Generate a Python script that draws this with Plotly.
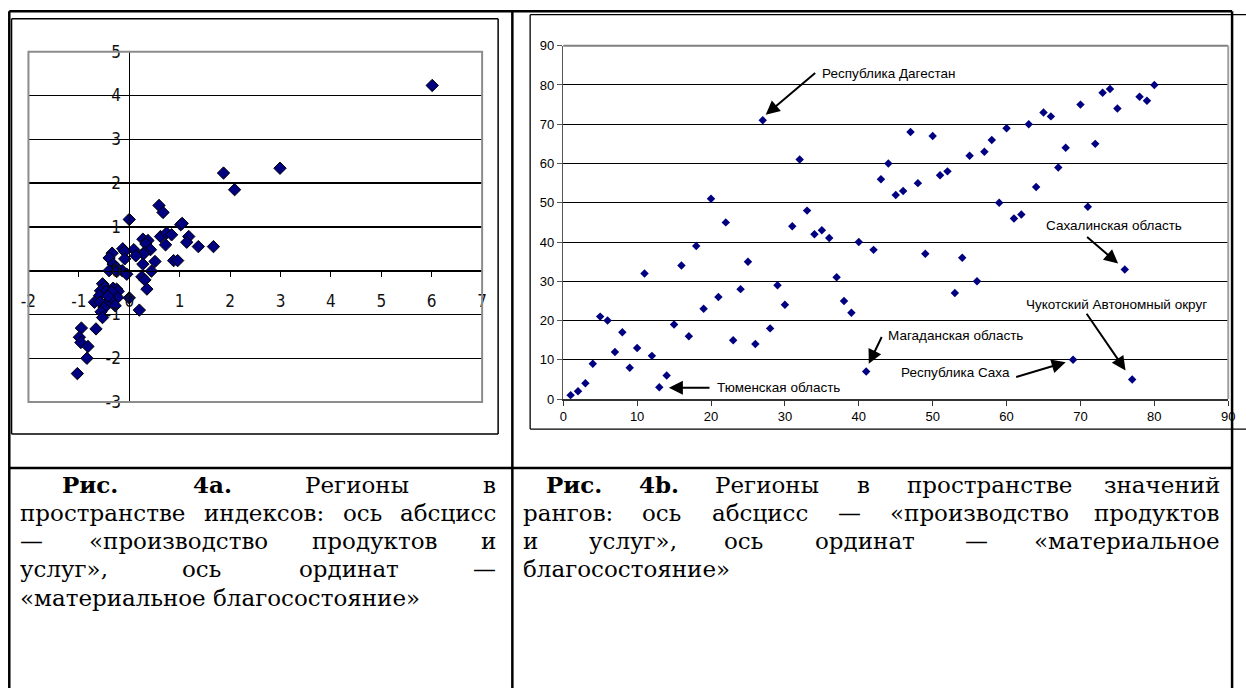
import plotly.graph_objects as go

W, H = 1246, 688

# ---------------- data: Fig 4a (index space) ----------------
IDX_X = [6.01, 2.99, 1.87, 2.09, 0.59, 0.67, 0.00, 1.02, 1.05, 0.62, 0.74, 0.84, 0.72,
         1.18, 1.14, 1.37, 1.67, 0.88, 0.96, 0.27, 0.37, 0.33, 0.42, 0.30, 0.28, 0.51,
         0.27, 0.44, 0.09, 0.13, -0.13, -0.09, -0.09, -0.14, -0.05, -0.34, -0.40, -0.32,
         -0.26, -0.40, -0.25, 0.25, 0.31, 0.35, 0.20, 0.00, -0.53, -0.48, -0.32, -0.25,
         -0.22, -0.57, -0.46, -0.30, -0.23, -0.59, -0.38, -0.69, -0.58, -0.45, -0.28,
         -0.50, -0.56, -0.53, -0.95, -0.66, -0.99, -0.96, -0.82, -0.84, -1.03, -0.35, -0.42]
IDX_Y = [4.23, 2.34, 2.23, 1.85, 1.49, 1.33, 1.17, 1.05, 1.08, 0.78, 0.86, 0.82, 0.59,
         0.78, 0.65, 0.55, 0.55, 0.23, 0.23, 0.72, 0.69, 0.61, 0.48, 0.42, 0.38, 0.21,
         0.15, -0.01, 0.48, 0.34, 0.50, 0.44, 0.27, 0.00, -0.08, 0.40, 0.29, 0.15,
         0.08, 0.00, -0.02, -0.14, -0.21, -0.42, -0.90, -0.62, -0.30, -0.37, -0.40, -0.42,
         -0.47, -0.46, -0.47, -0.55, -0.61, -0.57, -0.65, -0.72, -0.72, -0.78, -0.80,
         -0.85, -0.94, -1.07, -1.31, -1.33, -1.52, -1.64, -1.73, -2.00, -2.35, -0.48, -0.58]
A_XTICKS = [-2, -1, 0, 1, 2, 3, 4, 5, 6, 7]
A_XTICKTEXT = ["-2", "-1", "0", "1", "2", "3", "4", "5", "6", "7"]
A_YTICKS = [-3, -2, -1, 0, 1, 2, 3, 4, 5]
A_YTICKTEXT = ["-3", "-2", "-1", "0", "1", "2", "3", "4", "5"]

# ---------------- data: Fig 4b (rank space) ----------------
RANK_X = [1, 2, 3, 4, 5, 6, 7, 8, 9, 10, 11, 12, 13, 14, 15, 16, 17, 18, 19, 20,
          21, 22, 23, 24, 25, 26, 27, 28, 29, 30, 31, 32, 33, 34, 35, 36, 37, 38, 39, 40,
          41, 42, 43, 44, 45, 46, 47, 48, 49, 50, 51, 52, 53, 54, 55, 56, 57, 58, 59, 60,
          61, 62, 63, 64, 65, 66, 67, 68, 69, 70, 71, 72, 73, 74, 75, 76, 77, 78, 79, 80]
RANK_Y = [1, 2, 4, 9, 21, 20, 12, 17, 8, 13, 32, 11, 3, 6, 19, 34, 16, 39, 23, 51,
          26, 45, 15, 28, 35, 14, 71, 18, 29, 24, 44, 61, 48, 42, 43, 41, 31, 25, 22, 40,
          7, 38, 56, 60, 52, 53, 68, 55, 37, 67, 57, 58, 27, 36, 62, 30, 63, 66, 50, 69,
          46, 47, 70, 54, 73, 72, 59, 64, 10, 75, 49, 65, 78, 79, 74, 33, 5, 77, 76, 80]
B_TICKS = [0, 10, 20, 30, 40, 50, 60, 70, 80, 90]

# labelled regions: (text, text x, text y, anchor, arrow head x, y, arrow tail x, y)
B_LABELS = [
    ("Республика Дагестан", 34.8, 82.9, "left", 27.4, 72.4, 34.3, 83.4),
    ("Тюменская область", 20.6, 3.0, "left", 14.3, 2.9, 20.0, 2.9),
    ("Магаданская область", 43.7, 16.2, "left", 41.35, 9.0, 43.2, 16.2),
    ("Республика Саха", 60.8, 6.7, "right", 68.0, 9.4, 61.1, 5.5),
    ("Сахалинская область", 74.5, 44.2, "center", 75.1, 34.5, 70.7, 41.6),
    ("Чукотский Автономный округ", 74.9, 24.1, "center", 76.1, 7.3, 70.7, 22.1),
]

# ---------------- captions ----------------
CAP_LEFT = [
    [("Рис.", True), ("4a.", True), ("Регионы", False), ("в", False)],
    [("пространстве", False), ("индексов:", False), ("ось", False), ("абсцисс", False)],
    [("—", False), ("«производство", False), ("продуктов", False), ("и", False)],
    [("услуг»,", False), ("ось", False), ("ординат", False), ("—", False)],
    [("«материальное благосостояние»", False)],
]
CAP_RIGHT = [
    [("Рис.", True), ("4b.", True), ("Регионы", False), ("в", False), ("пространстве", False), ("значений", False)],
    [("рангов:", False), ("ось", False), ("абсцисс", False), ("—", False), ("«производство", False), ("продуктов", False)],
    [("и", False), ("услуг»,", False), ("ось", False), ("ординат", False), ("—", False), ("«материальное", False)],
    [("благосостояние»", False)],
]


def px(x):
    return x / W


def py(y):
    return 1 - y / H


fig = go.Figure()

# ---- layout geometry (pixels) ----
A_DX = [20.7, 479.9]
A_DY = [43.0, 403.8]
B_DX = [562.0, 1235.1]
B_DY = [36.8, 400.7]
A_XR = [-2, 7]
A_YR = [-3, 5]

a_xdom = [px(A_DX[0]), px(A_DX[1])]
a_ydom = [py(A_DY[1]), py(A_DY[0])]
b_xdom = [px(B_DX[0]), px(B_DX[1])]
b_ydom = [py(B_DY[1]), py(B_DY[0])]

a_xaxis_pos = a_ydom[0] + (0 - A_YR[0]) / (A_YR[1] - A_YR[0]) * (a_ydom[1] - a_ydom[0])
a_yaxis_pos = a_xdom[0] + (0 - A_XR[0]) / (A_XR[1] - A_XR[0]) * (a_xdom[1] - a_xdom[0])

NARROW = "Liberation Sans Narrow, Arial Narrow, DejaVu Sans Condensed, Liberation Sans, Arial"
SANS = "Liberation Sans, Arial, sans-serif"
SERIF = "DejaVu Serif, Liberation Serif, serif"

fig.add_trace(go.Scatter(
    x=IDX_X, y=IDX_Y, mode="markers", xaxis="x", yaxis="y",
    marker=dict(symbol="diamond", size=9.5, color="#000080", line=dict(color="black", width=1)),
    hoverinfo="skip", showlegend=False, cliponaxis=False))

fig.add_trace(go.Scatter(
    x=RANK_X, y=RANK_Y, mode="markers", xaxis="x2", yaxis="y2",
    marker=dict(symbol="diamond", size=6.5, color="#000080", line=dict(width=0)),
    hoverinfo="skip", showlegend=False, cliponaxis=False))

fig.update_layout(
    width=W, height=H, margin=dict(l=0, r=0, t=0, b=0),
    paper_bgcolor="white", plot_bgcolor="white", showlegend=False,
    xaxis=dict(domain=a_xdom, range=A_XR, anchor="free", position=a_xaxis_pos,
               showline=True, linecolor="black", linewidth=1.5,
               ticks="outside", ticklen=5, tickwidth=1, tickcolor="black",
               tickvals=A_XTICKS, ticktext=A_XTICKTEXT, ticklabelstandoff=9,
               showgrid=False, zeroline=False, fixedrange=True,
               tickfont=dict(family=NARROW, size=17, color="#111")),
    yaxis=dict(domain=a_ydom, range=A_YR, anchor="free", position=a_yaxis_pos,
               showline=True, linecolor="black", linewidth=1.2,
               ticks="outside", ticklen=5, tickwidth=1, tickcolor="black",
               tickvals=A_YTICKS, ticktext=A_YTICKTEXT,
               showgrid=True, gridcolor="black", gridwidth=1.5,
               zeroline=False, fixedrange=True,
               tickfont=dict(family=NARROW, size=17, color="#111")),
    xaxis2=dict(domain=b_xdom, range=[0, 90], anchor="y2",
                showline=True, linecolor="#333", linewidth=1.5,
                ticks="outside", ticklen=5, tickwidth=1, tickcolor="#333",
                tickvals=B_TICKS, showgrid=False, zeroline=False, fixedrange=True,
                tickfont=dict(family=SANS, size=13, color="black")),
    yaxis2=dict(domain=b_ydom, range=[0, 90], anchor="x2",
                showline=True, linecolor="#555", linewidth=1.5,
                ticks="outside", ticklen=5, tickwidth=1, tickcolor="#555",
                tickvals=B_TICKS, showgrid=True, gridcolor="black", gridwidth=1,
                zeroline=False, fixedrange=True,
                tickfont=dict(family=SANS, size=13, color="black")),
)

shapes = []
shapes.append(dict(type="rect", xref="x domain", yref="y domain", x0=0, x1=1, y0=0, y1=1,
                   line=dict(color="#8c8c8c", width=2), layer="above"))
shapes.append(dict(type="line", xref="x2 domain", yref="y2 domain", x0=0, x1=1, y0=1, y1=1,
                   line=dict(color="#808080", width=2), layer="above"))
shapes.append(dict(type="line", xref="x2 domain", yref="y2 domain", x0=1, x1=1, y0=0, y1=1,
                   line=dict(color="#a0a0a0", width=2), layer="above"))


def pline(x0, y0, x1, y1, width=2.5, color="black"):
    shapes.append(dict(type="line", xref="paper", yref="paper",
                       x0=px(x0), y0=py(y0), x1=px(x1), y1=py(y1),
                       line=dict(color=color, width=width), layer="above"))


# chart boxes
pline(3.6, 9.0, 496.1, 9.0, 1.5)
pline(3.6, 436.8, 496.1, 436.8, 1.5)
pline(3.6, 9.0, 3.6, 436.8, 1.5)
pline(496.1, 9.0, 496.1, 436.8, 1.5)
pline(528.5, 4.8, 1260, 4.8, 1.3)
pline(528.5, 431.6, 1260, 431.6, 1.3)
pline(528.5, 4.8, 528.5, 431.6, 1.3)
# table grid
TOP, DIV, LEFT, MID, RIGHT = 1.3, 471.8, 1.3, 510.5, 1239
pline(LEFT, TOP, RIGHT, TOP, 2.5)
pline(LEFT, TOP, LEFT, 700, 2.5)
pline(MID, TOP, MID, 700, 2.5)
pline(RIGHT, TOP, RIGHT, 700, 2.5)
pline(LEFT, DIV, RIGHT, DIV, 2.5)

annotations = []

for text, tx, ty, anc, hx, hy, ax_, ay_ in B_LABELS:
    annotations.append(dict(x=tx, y=ty, xref="x2", yref="y2", text=text, showarrow=False,
                            xanchor=anc, yanchor="middle",
                            font=dict(family=SANS, size=13.5, color="black")))
    annotations.append(dict(x=hx, y=hy, xref="x2", yref="y2", ax=ax_, ay=ay_,
                            axref="x2", ayref="y2", text="", showarrow=True,
                            arrowhead=2, arrowsize=1.4, arrowwidth=2, arrowcolor="black",
                            standoff=0, startstandoff=0))

# caption text, justified word by word (approximate DejaVu Serif advance widths, em)
TW = {"а": .595, "б": .612, "в": .590, "г": .522, "д": .643, "е": .592, "ж": .919, "з": .529,
      "и": .670, "й": .670, "к": .633, "л": .643, "м": .770, "н": .670, "о": .602, "п": .670,
      "р": .640, "с": .561, "т": .563, "у": .570, "ф": .818, "х": .570, "ц": .670, "ч": .635,
      "ш": .949, "щ": .949, "ъ": .698, "ы": .868, "ь": .605, "э": .561, "ю": .874, "я": .635,
      "Р": .733, ".": .318, ",": .318, ":": .337, "«": .556, "»": .556, "—": 1.0, " ": .318,
      "4": .636, "a": .595, "b": .640}
BOLD_F = 1.09
CAP_SIZE = 23


def wwidth(s, bold):
    return sum(TW.get(ch, .6) for ch in s) * CAP_SIZE * (BOLD_F if bold else 1.0)


def caption(lines, left, right, indent, y0, step):
    for i, words in enumerate(lines):
        y = y0 + i * step
        L = left + (indent if i == 0 else 0)
        last = i == len(lines) - 1
        if last or len(words) == 1:
            s = " ".join(w for w, _ in words)
            annotations.append(dict(x=px(L), y=py(y), xref="paper", yref="paper", text=s,
                                    showarrow=False, xanchor="left", yanchor="middle",
                                    borderpad=0,
                                    font=dict(family=SERIF, size=CAP_SIZE, color="black")))
            continue
        widths = [wwidth(w, b) for w, b in words]
        gap = (right - L - sum(widths)) / (len(words) - 1)
        x = L
        for j, (w, b) in enumerate(words):
            t = "<b>%s</b>" % w if b else w
            if j == len(words) - 1:
                xx, anc = right, "right"
            else:
                xx, anc = x, "left"
            annotations.append(dict(x=px(xx), y=py(y), xref="paper", yref="paper", text=t,
                                    showarrow=False, xanchor=anc, yanchor="middle",
                                    borderpad=0,
                                    font=dict(family=SERIF, size=CAP_SIZE, color="black")))
            x += widths[j] + gap


caption(CAP_LEFT, 11.6, 495.1, 42.4, 488.8, 29.1)
caption(CAP_RIGHT, 520.4, 1228, 23.3, 488.8, 29.1)

fig.update_layout(shapes=shapes, annotations=annotations)

fig.write_html("out.html", config={"displayModeBar": False, "staticPlot": True},
               post_script="document.body.style.margin='0';document.body.style.overflow='hidden';")
